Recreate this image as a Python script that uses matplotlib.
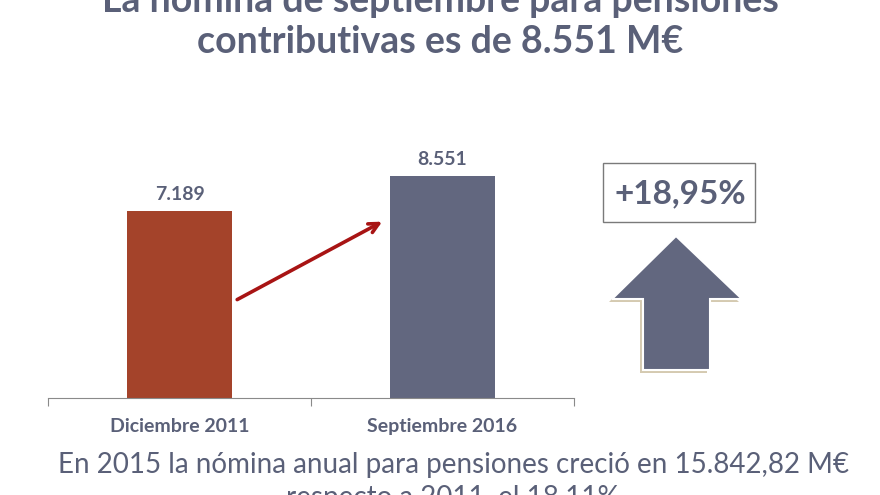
import matplotlib
matplotlib.use('Agg')
import matplotlib.pyplot as plt
from matplotlib.patches import Polygon, Rectangle

plt.rcParams['font.family'] = ['Lato', 'DejaVu Sans']

# datos
categorias = ['Diciembre 2011', 'Septiembre 2016']
nomina = [7189, 8551]
etiquetas = ['7.189', '8.551']
colores = ['#a4432a', '#62677f']
incremento = '+18,95%'

titulo = ['La nómina de septiembre para pensiones', 'contributivas es de 8.551 M€']
nota = ['En 2015 la nómina anual para pensiones creció en 15.842,82 M€',
        'respecto a 2011, el 18,11%']

texto = '#5a6078'

fig = plt.figure(figsize=(8.8, 4.95), dpi=100)
fig.patch.set_facecolor('white')

ax = fig.add_axes([48/880, 97/495, 526/880, 268/495])
x = range(len(categorias))
ax.bar(x, nomina, width=0.4, color=colores)
ax.set_xlim(-0.5, 1.5)
ax.set_ylim(0, 10320)
for xi, v, et in zip(x, nomina, etiquetas):
    ax.text(xi, v + 420, et, ha='center', va='baseline', fontsize=14,
            fontweight='bold', color=texto)

# flecha roja entre barras
ax.annotate('', xy=(1 - 0.22, nomina[1] * 0.8), xytext=(0 + 0.21, nomina[0] * 0.52),
            arrowprops=dict(arrowstyle='->,head_length=0.7,head_width=0.35',
                            color='#a81414', lw=2.6))

for s in ['top', 'left', 'right']:
    ax.spines[s].set_visible(False)
ax.spines['bottom'].set_color('#8a8a8a')
ax.set_yticks([])
ax.set_xticks([-0.5, 0.5, 1.5])
ax.set_xticklabels([])
ax.tick_params(axis='x', length=6, color='#8a8a8a', direction='out')
for xi, c in zip(x, categorias):
    ax.text(xi, -0.075, c, transform=ax.get_xaxis_transform(), ha='center',
            va='top', fontsize=14, fontweight='bold', color=texto)

# flecha grande hacia arriba (coordenadas de figura en pixeles)
def px(pts):
    return [(a / 880, 1 - b / 495) for a, b in pts]

forma = [(643, 370), (643, 299), (612, 299), (676, 236), (742, 299), (710, 299), (710, 370)]
sombra = [(a - 3, b + 3) for a, b in forma]
fig.patches.append(Polygon(px(sombra), closed=True, transform=fig.transFigure,
                           facecolor='#cbbd9e', edgecolor='none', alpha=0.8))
fig.patches.append(Polygon(px(forma), closed=True, transform=fig.transFigure,
                           facecolor='#62677f', edgecolor='white', lw=1.5))

fig.patches.append(Rectangle((603/880, 1 - 222/495), 152/880, 59/495,
                             transform=fig.transFigure, facecolor='white',
                             edgecolor='#7a7a7a', lw=1))
fig.text(680/880, 1 - 194/495, incremento, ha='center', va='center',
         fontsize=24, fontweight='bold', color=texto)

for linea, base in zip(titulo, [12, 53]):
    fig.text(440/880, 1 - base/495, linea, ha='center', va='baseline', fontsize=27,
             fontweight='bold', color=texto)
for linea, base in zip(nota, [473, 506]):
    fig.text(453/880, 1 - base/495, linea, ha='center', va='baseline', fontsize=20,
             color=texto)

fig.savefig('out.png', dpi=100, facecolor='white')
